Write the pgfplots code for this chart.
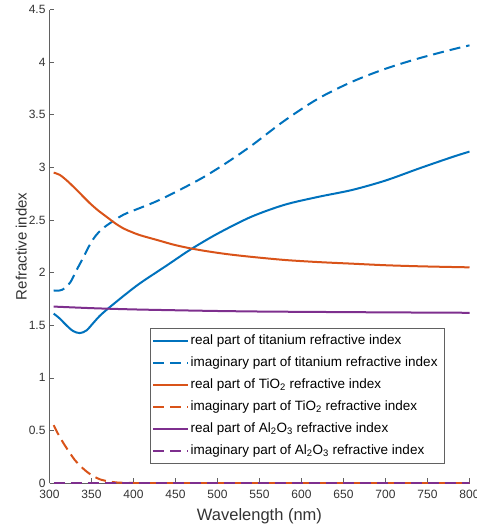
\documentclass[border=0pt]{standalone}
\usepackage{fontspec}
\setmainfont{Liberation Sans}
\usepackage{pgfplots}
\pgfplotsset{compat=1.18}
\definecolor{mblue}{rgb}{0,0.447,0.741}
\definecolor{morange}{rgb}{0.850,0.325,0.098}
\definecolor{mpurple}{rgb}{0.494,0.184,0.556}
\definecolor{axgray}{gray}{0.38}
\definecolor{txgray}{gray}{0.2}
\newcommand\lt[1]{\makebox[250pt][l]{#1}}
\begin{document}
\begin{tikzpicture}
\begin{axis}[
  scale only axis, width=420pt, height=473.4pt,
  xmin=300, xmax=800, ymin=0, ymax=4.5,
  axis lines*=left,
  axis line style={axgray, line width=0.6pt},
  xtick={300,350,...,800}, ytick={0,0.5,...,4.5},
  tick style={axgray, line width=0.6pt}, tick align=inside, major tick length=4.5pt,
  ticklabel style={font=\fontsize{12}{14}\selectfont, text=txgray},
  /pgf/number format/assume math mode=true,
  xticklabel style={yshift=-4pt},
  yticklabel style={xshift=-0.5pt},
  xlabel={Wavelength (nm)},
  xlabel style={font=\fontsize{16.5}{18}\selectfont, text=txgray, at={(axis description cs:0.5,-0.0796)}, anchor=base},
  ylabel={Refractive index},
  ylabel style={font=\fontsize{15}{17}\selectfont, text=txgray, at={(axis description cs:-0.067,0.5)}, anchor=center},
  legend style={at={(0.239,0.040)}, anchor=south west, draw=axgray, fill=white, line width=0.6pt,
    font=\fontsize{13.5}{16}\selectfont, inner xsep=2pt, inner ysep=1.5pt, row sep=0pt,
    nodes={text height=10pt, text depth=4pt, inner ysep=4pt, inner xsep=1.5pt}},
  legend cell align=left,
  legend image code/.code={\draw[#1] (0pt,0pt) -- (35pt,0pt);},
  every axis plot/.append style={line width=2pt},
  dashstyle/.style={dash pattern=on 11pt off 6pt},
]
\addplot[mblue, smooth, tension=0.5] coordinates {
(305,1.61) (312,1.565) (320,1.50) (328,1.445) (336,1.425) (344,1.45) (352,1.52) (360,1.59)
(370,1.66) (390,1.79) (408,1.90) (440,2.07) (468,2.22) (500,2.37) (540,2.53) (580,2.645)
(620,2.72) (660,2.785) (700,2.875) (740,2.99) (780,3.10) (800,3.15)};
\addlegendentry{\lt{real part of titanium refractive index}}
\addplot[mblue, dashstyle, smooth, tension=0.5] coordinates {
(305,1.83) (312,1.83) (318,1.85) (325,1.91) (332,2.02) (340,2.14) (347,2.25) (354,2.34)
(362,2.41) (372,2.47) (388,2.55) (408,2.615) (428,2.68) (456,2.79) (484,2.91) (512,3.05)
(541,3.21) (579,3.44) (619,3.65) (659,3.81) (699,3.935) (739,4.035) (779,4.12) (800,4.16)};
\addlegendentry{\lt{imaginary part of titanium refractive index}}
\addplot[morange, smooth, tension=0.5] coordinates {
(305,2.95) (312,2.93) (320,2.88) (328,2.82) (338,2.74) (348,2.66) (358,2.59) (368,2.53)
(378,2.47) (388,2.42) (398,2.385) (408,2.355) (428,2.31) (448,2.265) (468,2.23) (490,2.20)
(512,2.175) (540,2.15) (580,2.12) (620,2.10) (660,2.085) (700,2.07) (740,2.06) (780,2.053) (800,2.05)};
\addlegendentry{\lt{real part of TiO\textsubscript{2} refractive index}}
\addplot[morange, dashstyle, smooth, tension=0.4] coordinates {
(305,0.55) (310,0.47) (316.5,0.38) (323,0.30) (330,0.22) (337,0.16) (344,0.11) (352,0.065)
(360,0.035) (370,0.015) (380,0.005) (390,0.001) (400,0) (500,0) (600,0) (700,0) (800,0)};
\addlegendentry{\lt{imaginary part of TiO\textsubscript{2} refractive index}}
\addplot[mpurple, smooth] coordinates {
(305,1.677) (350,1.662) (400,1.65) (450,1.642) (500,1.635) (550,1.63) (600,1.627) (700,1.622) (800,1.618)};
\addlegendentry{\lt{real part of Al\textsubscript{2}O\textsubscript{3} refractive index}}
\addplot[mpurple, dashstyle] coordinates {(305,0) (800,0)};
\addlegendentry{\lt{imaginary part of Al\textsubscript{2}O\textsubscript{3} refractive index}}
\end{axis}
\pgfresetboundingbox
\path[use as bounding box] ([xshift=-49.5pt,yshift=-41pt]current axis.south west) rectangle ([xshift=6.5pt,yshift=9.6pt]current axis.north east);
\end{tikzpicture}
\end{document}
